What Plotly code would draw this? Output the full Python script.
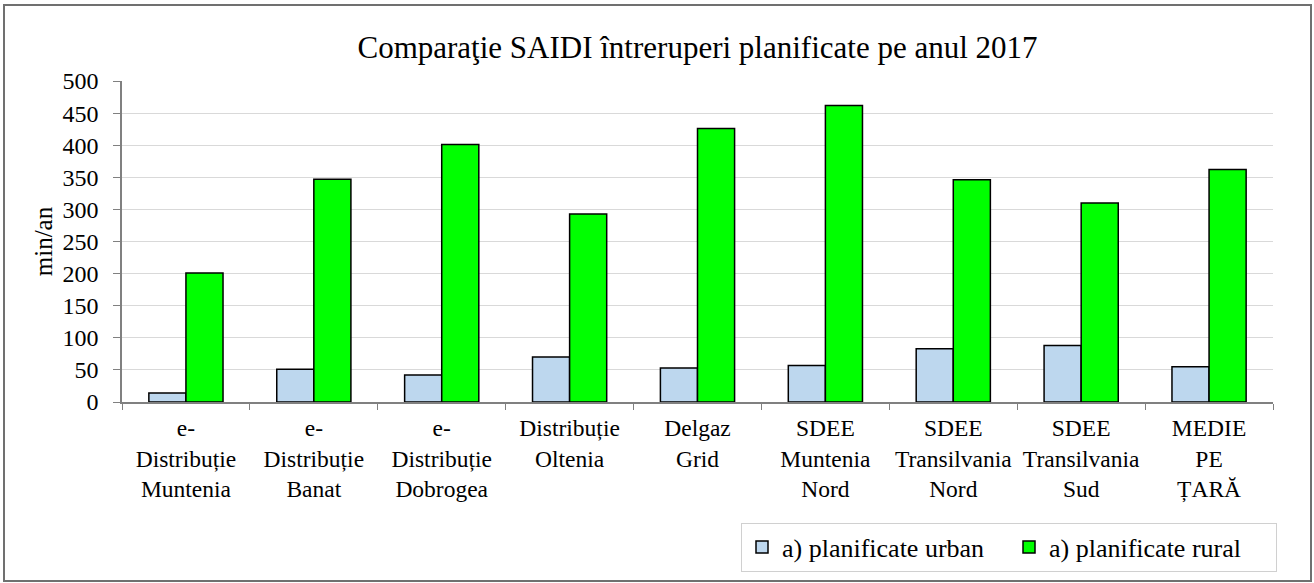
import plotly.graph_objects as go

categories = [
    "e-<br>Distribuție<br>Muntenia",
    "e-<br>Distribuție<br>Banat",
    "e-<br>Distribuție<br>Dobrogea",
    "Distribuție<br>Oltenia",
    "Delgaz<br>Grid",
    "SDEE<br>Muntenia<br>Nord",
    "SDEE<br>Transilvania<br>Nord",
    "SDEE<br>Transilvania<br>Sud",
    "MEDIE<br>PE<br>ȚARĂ",
]
urban = [14, 51, 42, 70, 53, 57, 83, 88, 55]
rural = [201, 347, 401, 293, 426, 462, 346, 310, 362]
y_ticks = [0, 50, 100, 150, 200, 250, 300, 350, 400, 450, 500]

FONT = "Liberation Serif, Times New Roman, serif"

fig = go.Figure()
fig.add_trace(go.Bar(
    x=categories, y=urban, name="a) planificate urban",
    marker=dict(color="#bdd7ee", line=dict(color="#000000", width=1.5)),
))
fig.add_trace(go.Bar(
    x=categories, y=rural, name="a) planificate rural",
    marker=dict(color="#00ff00", line=dict(color="#000000", width=1.5)),
))

L, R, T, B = 122, 41, 81, 181
W, H = 1314, 583
pw, ph = W - L - R, H - T - B

def px_x(p):
    return (p - L) / pw

def px_y(p):
    return (H - B - p) / ph

fig.update_layout(
    width=W, height=H,
    margin=dict(l=L, r=R, t=T, b=B),
    paper_bgcolor="white", plot_bgcolor="white",
    font=dict(family=FONT, color="#000000", size=20),
    barmode="group", bargap=0.42, bargroupgap=0,
    title=dict(text="Comparaţie SAIDI întreruperi planificate pe anul 2017",
               x=0.5, xref="paper", y=1 - 47 / H, yanchor="middle",
               font=dict(family=FONT, size=31, color="#000000")),
    showlegend=True,
    legend=dict(orientation="h", x=px_x(1277), xanchor="right",
                y=px_y(547), yanchor="middle",
                bordercolor="#d0d0d0", borderwidth=1, bgcolor="white",
                font=dict(family=FONT, size=26, color="#000000"),
                itemwidth=30, entrywidth=222, traceorder="normal"),
    xaxis=dict(type="category", showline=True, linecolor="#808080", linewidth=1.5,
               ticks="outside", tickson="boundaries", ticklen=6, tickcolor="#808080",
               ticklabelstandoff=4,
               tickfont=dict(family=FONT, size=23.5, color="#000000"),
               showgrid=False),
    yaxis=dict(range=[0, 500], tickvals=y_ticks, showline=True, linecolor="#808080",
               linewidth=1.5, ticks="outside", ticklen=7, tickcolor="#808080",
               ticklabelstandoff=10,
               gridcolor="#d9d9d9", gridwidth=1.2,
               tickfont=dict(family=FONT, size=24, color="#000000"),
               title=dict(text="min/an", font=dict(family=FONT, size=25, color="#000000"),
                          standoff=3),
               zeroline=False),
    shapes=[dict(type="rect", xref="paper", yref="paper",
                 x0=px_x(4), x1=px_x(1311), y0=px_y(581), y1=px_y(5),
                 line=dict(color="#707070", width=2), fillcolor="rgba(0,0,0,0)",
                 layer="below")],
)

fig.write_html("out.html", config={"displayModeBar": False},
               post_script="document.body.style.margin='0';document.body.style.overflow='hidden';")
